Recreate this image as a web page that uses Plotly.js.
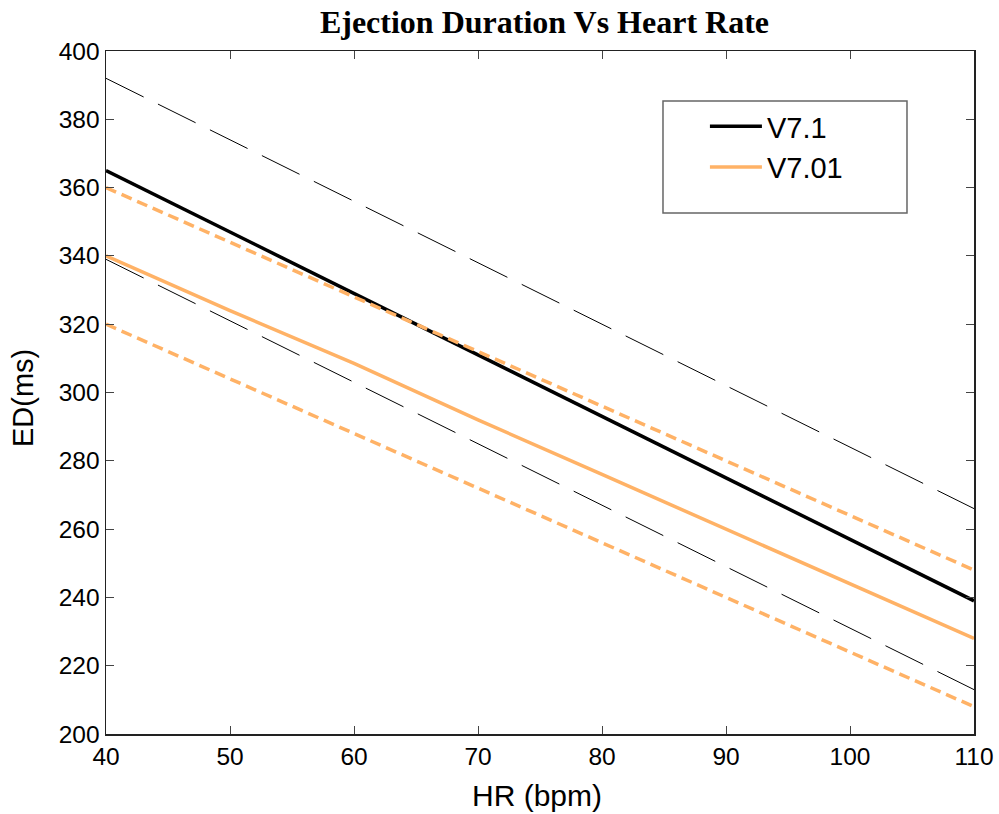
<!DOCTYPE html>
<html>
<head>
<meta charset="utf-8">
<script src="https://cdn.plot.ly/plotly-3.0.1.min.js"></script>
<style>html,body{margin:0;padding:0;background:#fff;}#chart{width:999px;height:814px;}</style>
</head>
<body>
<div id="chart"></div>
<script>
const hr = [40, 50, 60, 70, 80, 90, 100, 110];
const v71 = [365, 347, 329, 311, 293, 275, 257, 239];
const v71Upper = [392, 374, 356, 338, 320, 302, 284, 266];
const v71Lower = [339, 321, 303, 285, 267, 249, 231, 213];
const v701 = [340, 324, 308.5, 292, 276, 260, 244, 228];
const v701Upper = [360, 344, 328, 312, 296, 280, 264, 248];
const v701Lower = [320, 304, 288, 272, 256, 240, 224, 208];
const xTitle = 'HR (bpm)';
const yTitle = 'ED(ms)';

const orange = 'rgb(255,178,102)';
const traces = [
  {x: hr, y: v71Upper, mode: 'lines', line: {color: '#000', width: 1, dash: '42px,16px'}, showlegend: false, hoverinfo: 'skip'},
  {x: hr, y: v71Lower, mode: 'lines', line: {color: '#000', width: 1, dash: '42px,16px'}, showlegend: false, hoverinfo: 'skip'},
  {x: hr, y: v71, mode: 'lines', name: 'V7.1', line: {color: '#000', width: 3.5}},
  {x: hr, y: v701, mode: 'lines', name: 'V7.01', line: {color: orange, width: 3.5}},
  {x: hr, y: v701Upper, mode: 'lines', line: {color: orange, width: 3.5, dash: '11px,6px'}, showlegend: false, hoverinfo: 'skip'},
  {x: hr, y: v701Lower, mode: 'lines', line: {color: orange, width: 3.5, dash: '11px,6px'}, showlegend: false, hoverinfo: 'skip'}
];

const sans = 'Liberation Sans, Arial, sans-serif';
const axisCommon = {
  showgrid: false, zeroline: false, showline: true, linecolor: '#222', linewidth: 1.5,
  mirror: 'ticks', ticks: 'inside', ticklen: 8, tickcolor: '#444', tickwidth: 1,
  tickfont: {family: sans, size: 24.5, color: '#000'}
};

const layout = {
  width: 999, height: 814,
  margin: {l: 106, r: 25, t: 51, b: 80},
  paper_bgcolor: '#fff', plot_bgcolor: '#fff',
  title: {text: '<b>Ejection Duration Vs Heart Rate</b>', x: 0.545, xanchor: 'center', y: 0.973, yanchor: 'middle',
    font: {family: 'Liberation Serif, Times New Roman, serif', size: 32, color: '#000'}},
  xaxis: Object.assign({}, axisCommon, {range: [40, 110], dtick: 10, tick0: 40}),
  yaxis: Object.assign({}, axisCommon, {range: [200, 400], dtick: 20, tick0: 200}),
  showlegend: true,
  legend: {x: 0.69, y: 0.927, xanchor: 'left', yanchor: 'top', bgcolor: 'rgba(0,0,0,0)', borderwidth: 0,
    itemwidth: 52, tracegroupgap: 0,
    font: {family: sans, size: 29, color: '#000'}},
  shapes: [{type: 'rect', xref: 'paper', yref: 'paper', x0: 0.6417, x1: 0.9228, y0: 0.7628, y1: 0.9268,
    line: {color: '#666', width: 1.5}, fillcolor: 'rgba(0,0,0,0)', layer: 'below'}],
  annotations: [
    {text: xTitle, xref: 'paper', yref: 'paper', x: 0.497, y: (734 - 795) / 683, xanchor: 'center', yanchor: 'middle',
      showarrow: false, font: {family: sans, size: 30, color: '#000'}},
    {text: yTitle, xref: 'paper', yref: 'paper', x: (23 - 106) / 868, y: (734 - 398) / 683, xanchor: 'center', yanchor: 'middle',
      textangle: -90, showarrow: false, font: {family: sans, size: 29, color: '#000'}}
  ]
};

Plotly.newPlot('chart', traces, layout, {displayModeBar: false, staticPlot: true});
</script>
</body>
</html>
